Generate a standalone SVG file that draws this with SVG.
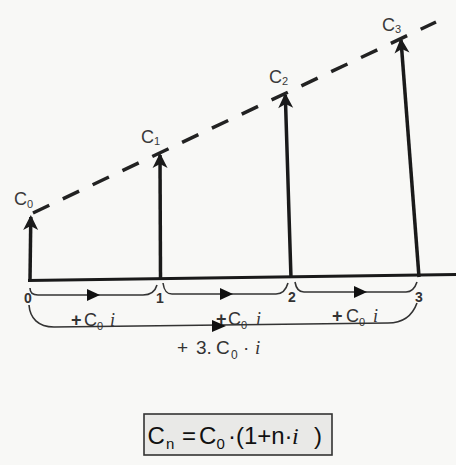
<svg xmlns="http://www.w3.org/2000/svg" width="456" height="465" viewBox="0 0 456 465">
<defs>
<style>
.bg{fill:#f8f8f6}
.vec{stroke:#1a1a1a;stroke-width:3.5;fill:none}
.axis{stroke:#1a1a1a;stroke-width:3;fill:none}
.dash{stroke:#222;stroke-width:3.5;fill:none;stroke-dasharray:18 15}
.brace{stroke:#333;stroke-width:1.6;fill:none}
.lbl{font-family:"Liberation Sans",Arial,sans-serif;font-size:18px;fill:#3a3a3a}
.sub{font-size:11px}
.tick{font-family:"Liberation Sans",Arial,sans-serif;font-size:14px;font-weight:bold;fill:#333;text-anchor:middle}
.inc{font-family:"Liberation Sans",Arial,sans-serif;font-size:18px;fill:#333}
.pl{font-weight:bold}
.it{font-family:"Liberation Serif","Times New Roman",serif;font-style:italic}
.form{font-family:"Liberation Sans",Arial,sans-serif;font-size:24px;fill:#111}
.box{fill:#e9e9e7;stroke:#333;stroke-width:1.6}
.tri{fill:#111}
</style>
<marker id="ah" markerWidth="20" markerHeight="20" viewBox="-16 -10 20 20" refX="0" refY="0" orient="auto" markerUnits="userSpaceOnUse">
<path d="M2,0 L-13,-7.5 L-9,0 L-13,7.5 Z" fill="#1a1a1a"/>
</marker>
</defs>
<rect class="bg" x="0" y="0" width="456" height="465"/>

<g id="axis">
<line class="axis" x1="28" y1="280.5" x2="456" y2="274.5"/>
<text class="tick" x="28" y="303">0</text>
<text class="tick" x="160" y="303">1</text>
<text class="tick" x="292" y="302">2</text>
<text class="tick" x="419" y="302">3</text>
</g>

<g id="c0">
<line class="vec" x1="30" y1="281" x2="30.8" y2="217" marker-end="url(#ah)"/>
<text class="lbl" x="14" y="205">C<tspan class="sub" dy="3">0</tspan></text>
</g>
<g id="c1">
<line class="vec" x1="160.5" y1="279" x2="160" y2="155" marker-end="url(#ah)"/>
<text class="lbl" x="141" y="143">C<tspan class="sub" dy="2">1</tspan></text>
</g>
<g id="c2">
<line class="vec" x1="291" y1="278" x2="285.3" y2="95" marker-end="url(#ah)"/>
<text class="lbl" x="269" y="83">C<tspan class="sub" dy="2">2</tspan></text>
</g>
<g id="c3">
<line class="vec" x1="419" y1="277" x2="401" y2="40" marker-end="url(#ah)"/>
<text class="lbl" x="382" y="31">C<tspan class="sub" dy="2">3</tspan></text>
</g>

<g id="connectors">
<line class="dash" x1="33" y1="213" x2="436" y2="22"/>
<path class="brace" d="M30,288 C30,293 33,295 38,295 L143,295 C151,295 155,292 157,285"/>
<path class="tri" d="M100,295 L87,289 L87,301 Z"/>
<path class="brace" d="M163,283 C164,290 166,294 172,294 L276,294 C283,294 286,290 288,283"/>
<path class="tri" d="M233,294 L220,288 L220,300 Z"/>
<path class="brace" d="M295,282 C296,288 298,292 304,292 L406,292 C412,292 415,288 417,282"/>
<path class="tri" d="M367,292 L354,286 L354,298 Z"/>
<path class="brace" d="M29,305 C30,318 38,327 54,327 L388,323 C405,323 413,314 417,303"/>
<path class="tri" d="M226,326 L212,320 L212,332 Z"/>
</g>

<g id="increments">
<text class="inc" y="326"><tspan class="pl" x="71">+</tspan><tspan x="84">C</tspan><tspan x="97" dy="4" style="font-size:11px">0</tspan><tspan class="it" x="110" dy="-4">i</tspan></text>
<text class="inc" y="325"><tspan class="pl" x="216">+</tspan><tspan x="228">C</tspan><tspan x="241" dy="4" style="font-size:11px">0</tspan><tspan class="it" x="256" dy="-4">i</tspan></text>
<text class="inc" y="322"><tspan class="pl" x="332">+</tspan><tspan x="346">C</tspan><tspan x="359" dy="4" style="font-size:11px">0</tspan><tspan class="it" x="373" dy="-4">i</tspan></text>
<text class="inc" y="354" style="font-size:19px"><tspan x="177">+</tspan><tspan x="196">3.</tspan><tspan x="216">C</tspan><tspan x="231" dy="5" style="font-size:12px">0</tspan><tspan x="243" dy="-5">·</tspan><tspan class="it" x="255">i</tspan></text>
</g>

<g id="formula">
<rect class="box" x="144" y="414" width="188" height="41"/>
<text class="form" y="444"><tspan x="147.5">C</tspan><tspan x="166" dy="5" style="font-size:15px">n</tspan><tspan x="182" dy="-5">=</tspan><tspan x="199">C</tspan><tspan x="216.5" dy="5" style="font-size:15px">0</tspan><tspan x="228" dy="-5">·</tspan><tspan x="236">(</tspan><tspan x="244">1</tspan><tspan x="257.3">+</tspan><tspan x="271.3">n</tspan><tspan x="284.6">·</tspan><tspan class="it" x="292">i</tspan><tspan x="314">)</tspan></text>
</g>
</svg>
